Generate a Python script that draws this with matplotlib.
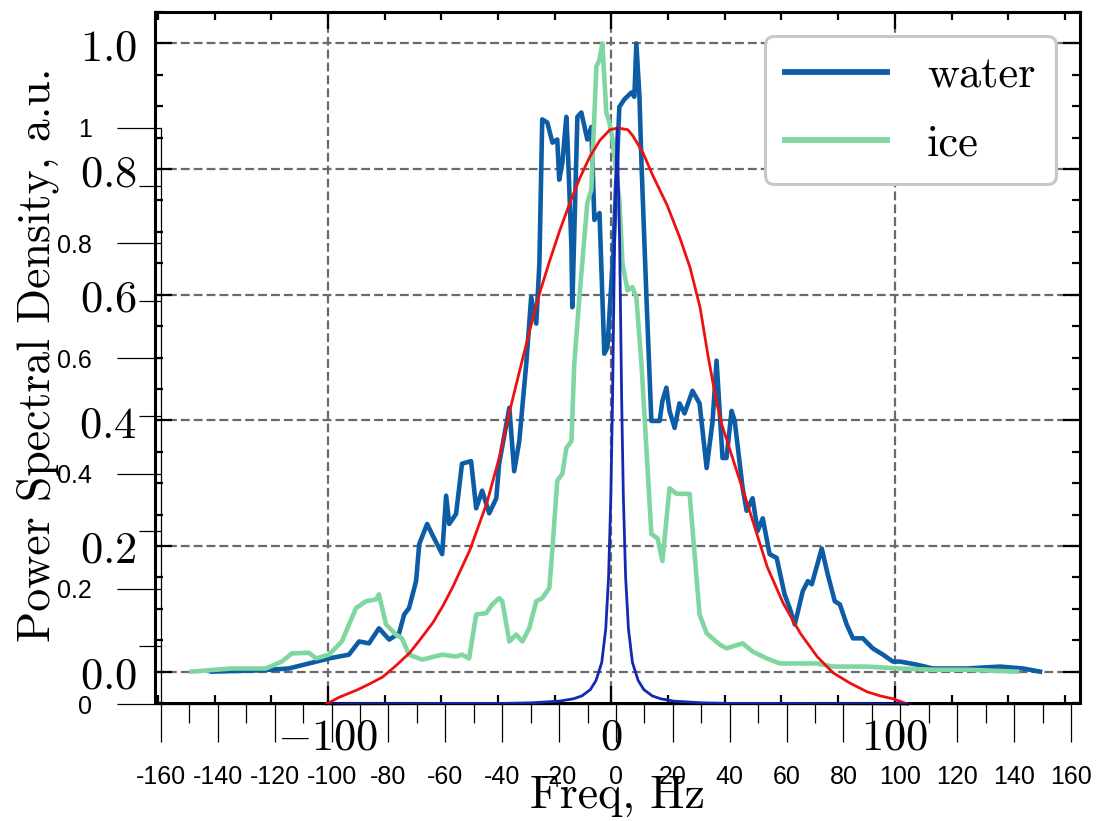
import matplotlib
matplotlib.use("Agg")
import matplotlib.pyplot as plt
from matplotlib import ticker

water_freq = [-141.0, -124.4, -113.8, -106.7, -99.6, -92.6, -89.0, -85.5, -82.0, -78.4,
              -74.9, -73.1, -71.4, -68.9, -67.8, -65.0, -63.3, -59.7, -58.3, -57.2,
              -54.8, -52.7, -49.5, -47.7, -45.6, -43.1, -40.6, -39.6, -36.0, -34.3,
              -32.5, -30.0, -28.3, -26.5, -25.4, -24.4, -22.6, -20.8, -19.1, -18.4,
              -17.3, -15.9, -15.5, -14.1, -13.8, -12.0, -10.6, -8.5, -7.1, -6.0,
              -4.2, -2.5, -1.4, 0.7, 2.8, 4.6, 7.1, 8.1, 8.8, 9.9,
              10.6, 12.4, 14.1, 17.0, 18.0, 19.4, 20.5, 22.3, 24.0, 25.8,
              28.6, 31.1, 33.6, 35.7, 37.1, 39.2, 40.6, 42.4, 43.5, 46.3,
              47.7, 49.8, 51.6, 53.4, 55.8, 58.3, 61.1, 62.9, 64.7, 67.5,
              69.3, 70.7, 74.2, 76.3, 78.8, 80.6, 83.0, 85.2, 88.7, 92.2,
              95.8, 99.3, 101.8, 107.8, 113.4, 125.4, 137.1, 145.2, 151.2]
water_psd = [0.000, 0.002, 0.005, 0.013, 0.021, 0.027, 0.048, 0.045, 0.069, 0.051,
             0.061, 0.091, 0.101, 0.144, 0.203, 0.235, 0.219, 0.187, 0.280, 0.235,
             0.251, 0.331, 0.335, 0.260, 0.288, 0.252, 0.276, 0.331, 0.420, 0.319,
             0.367, 0.492, 0.596, 0.554, 0.650, 0.879, 0.874, 0.842, 0.847, 0.783,
             0.810, 0.883, 0.847, 0.676, 0.580, 0.883, 0.890, 0.847, 0.867, 0.719,
             0.730, 0.506, 0.516, 0.671, 0.899, 0.911, 0.922, 0.915, 1.000, 0.915,
             0.810, 0.591, 0.399, 0.399, 0.431, 0.452, 0.415, 0.388, 0.427, 0.411,
             0.447, 0.427, 0.324, 0.399, 0.495, 0.340, 0.340, 0.415, 0.399, 0.292,
             0.256, 0.276, 0.224, 0.244, 0.187, 0.181, 0.123, 0.101, 0.075, 0.128,
             0.144, 0.139, 0.196, 0.155, 0.112, 0.107, 0.075, 0.053, 0.053, 0.037,
             0.027, 0.016, 0.016, 0.011, 0.005, 0.005, 0.008, 0.005, 0.000]

ice_freq = [-148.1, -133.9, -121.9, -116.3, -112.7, -106.7, -104.2, -99.6, -95.1, -90.1,
            -86.6, -83.0, -82.0, -79.5, -76.0, -73.9, -71.4, -66.8, -59.7, -54.8,
            -52.7, -50.2, -47.7, -44.2, -42.0, -39.6, -38.5, -36.0, -33.6, -31.4,
            -29.0, -26.5, -24.4, -21.9, -20.8, -19.1, -17.3, -15.9, -14.1, -13.1,
            -11.3, -8.5, -7.1, -5.3, -4.2, -3.2, -1.8, -0.7, 0.4, 2.8,
            3.9, 5.7, 7.4, 8.8, 10.6, 14.1, 16.3, 18.0, 20.5, 23.0,
            27.6, 31.1, 33.6, 38.2, 40.6, 46.3, 49.8, 54.8, 59.4, 66.4,
            72.4, 78.1, 90.1, 101.8, 113.4, 125.4, 143.1]
ice_psd = [0.000, 0.005, 0.005, 0.016, 0.029, 0.030, 0.021, 0.027, 0.048, 0.101,
           0.112, 0.115, 0.123, 0.075, 0.059, 0.053, 0.027, 0.019, 0.027, 0.024,
           0.027, 0.021, 0.091, 0.093, 0.107, 0.117, 0.112, 0.048, 0.059, 0.048,
           0.069, 0.112, 0.117, 0.133, 0.196, 0.304, 0.315, 0.356, 0.367, 0.490,
           0.596, 0.746, 0.767, 0.963, 0.974, 1.000, 0.890, 0.874, 0.847, 0.751,
           0.650, 0.607, 0.612, 0.596, 0.490, 0.219, 0.212, 0.176, 0.292, 0.283,
           0.283, 0.091, 0.061, 0.043, 0.037, 0.045, 0.032, 0.021, 0.013, 0.013,
           0.013, 0.008, 0.008, 0.005, 0.003, 0.003, 0.000]

# fitted line shapes (overlay axes)
fit_freq = [-101.8, -97.2, -91.2, -86.6, -82.0, -77.5, -72.5, -68.7, -64.4, -60.9,
            -57.4, -51.4, -45.4, -40.8, -37.3, -33.8, -30.3, -26.8, -23.2, -19.7,
            -16.2, -12.7, -9.2, -5.6, -2.1, 0.7, 4.2, 6.0, 9.5, 13.0,
            18.0, 22.5, 26.1, 29.6, 32.4, 35.2, 37.3, 41.2, 47.2, 53.2,
            58.8, 64.8, 70.8, 76.4, 82.4, 88.4, 93.0, 97.5, 102.5]
gauss_fit = [0.000, 0.012, 0.024, 0.035, 0.047, 0.066, 0.089, 0.113, 0.141, 0.170,
             0.203, 0.267, 0.349, 0.432, 0.510, 0.580, 0.649, 0.714, 0.771, 0.823,
             0.870, 0.913, 0.950, 0.979, 0.997, 1.000, 0.997, 0.986, 0.957, 0.917,
             0.866, 0.809, 0.757, 0.688, 0.604, 0.528, 0.484, 0.424, 0.332, 0.238,
             0.175, 0.123, 0.082, 0.054, 0.036, 0.021, 0.014, 0.009, 0.000]

lorentz_freq = [-100, -60, -40, -30, -20, -15, -12, -9, -7, -5, -3.6, -2.6, -1.8, -1.2, -0.5,
                0.4, 1.3, 2.0, 2.6, 3.4, 4.4, 5.8, 7.8, 9.8, 12.8, 15.8, 20.4, 30.4, 40.4,
                60.4, 102.5]
lorentz_fit = [0.0, 0.001, 0.001, 0.002, 0.005, 0.009, 0.014, 0.025, 0.041, 0.072, 0.13,
               0.22, 0.36, 0.53, 0.80, 1.0, 0.80, 0.53, 0.36, 0.22, 0.13, 0.072, 0.041,
               0.025, 0.014, 0.009, 0.005, 0.002, 0.001, 0.001, 0.0]

plt.rcParams["mathtext.fontset"] = "cm"
plt.rcParams["axes.unicode_minus"] = False

fig = plt.figure(figsize=(11.01, 8.21), dpi=100)
ax = fig.add_axes([0.1408, 0.1437, 0.8401, 0.8417])
ax2 = fig.add_axes([0.1462, 0.1425, 0.8265, 0.7016])

# main axes: measured spectra
ax.plot(water_freq, water_psd, color="#0C5DA5", lw=3.3, label="water")
ax.plot(ice_freq, ice_psd, color="#7FD6A0", lw=3.3, label="ice")
ax.set_xlim(-161, 165.3)
ax.set_ylim(-0.05, 1.05)
ax.xaxis.set_major_locator(ticker.MultipleLocator(100))
ax.xaxis.set_minor_locator(ticker.MultipleLocator(20))
ax.yaxis.set_major_locator(ticker.MultipleLocator(0.2))
ax.yaxis.set_minor_locator(ticker.MultipleLocator(0.05))
ax.xaxis.set_major_formatter(ticker.FuncFormatter(lambda v, p: r"$%d$" % round(v)))
ax.yaxis.set_major_formatter(ticker.FuncFormatter(lambda v, p: r"$%.1f$" % (v + 0.0)))
ax.tick_params(which="both", direction="in", top=True, right=True, width=1.6, labelsize=32)
ax.tick_params(which="major", length=12)
ax.tick_params(which="minor", length=6)
ax.tick_params(axis="y", pad=13)
ax.tick_params(axis="x", pad=9)
for s in ax.spines.values():
    s.set_linewidth(2.2)
ax.grid(True, which="major", linestyle=(0, (4, 1.8)), color="#6a6a6a", lw=1.6)
ax.set_ylabel("Power Spectral Density, a.u.", fontsize=33, family="cmr10")
ax.yaxis.set_label_coords(-0.104, 0.504)
ax.set_xlabel("Freq, Hz", fontsize=33, family="cmr10")
ax.xaxis.set_label_coords(0.5, -0.104)
leg = ax.legend(loc="upper right", prop={"family": "cmr10", "size": 32}, fancybox=True,
                edgecolor="#c8c8c8", framealpha=1, borderaxespad=0.55, handlelength=2.3,
                handletextpad=0.9, labelspacing=0.62, borderpad=0.45)
leg.get_frame().set_linewidth(2.2)
for h in leg.get_lines():
    h.set_linewidth(4.2)

# overlay axes: fits
ax2.patch.set_visible(False)
ax2.plot(fit_freq, gauss_fit, color="#ee1111", lw=2.0, clip_on=False)
ax2.plot(lorentz_freq, lorentz_fit, color="#1428b4", lw=2.0, clip_on=False)
ax2.set_xlim(-160, 160)
ax2.set_ylim(0, 1)
ax2.spines["top"].set_visible(False)
ax2.spines["right"].set_visible(False)
ax2.spines["left"].set_linewidth(0.9)
ax2.spines["bottom"].set_linewidth(0.9)
ax2.xaxis.set_major_locator(ticker.MultipleLocator(20))
ax2.xaxis.set_minor_locator(ticker.MultipleLocator(10))
ax2.yaxis.set_major_locator(ticker.MultipleLocator(0.2))
ax2.yaxis.set_minor_locator(ticker.MultipleLocator(0.1))
ax2.xaxis.set_major_formatter(ticker.FuncFormatter(lambda v, p: "%g" % round(v)))
ax2.yaxis.set_major_formatter(ticker.FuncFormatter(lambda v, p: "%g" % round(v, 1)))
ax2.tick_params(which="both", direction="out", width=0.9, labelsize=18)
ax2.tick_params(axis="x", which="major", length=27, pad=17)
ax2.tick_params(axis="x", which="minor", length=14)
ax2.tick_params(axis="y", which="major", length=32, pad=18)
ax2.tick_params(axis="y", which="minor", length=16)
for lab in ax2.get_xticklabels() + ax2.get_yticklabels():
    lab.set_family("Liberation Sans")

fig.savefig("out.png", dpi=100)
